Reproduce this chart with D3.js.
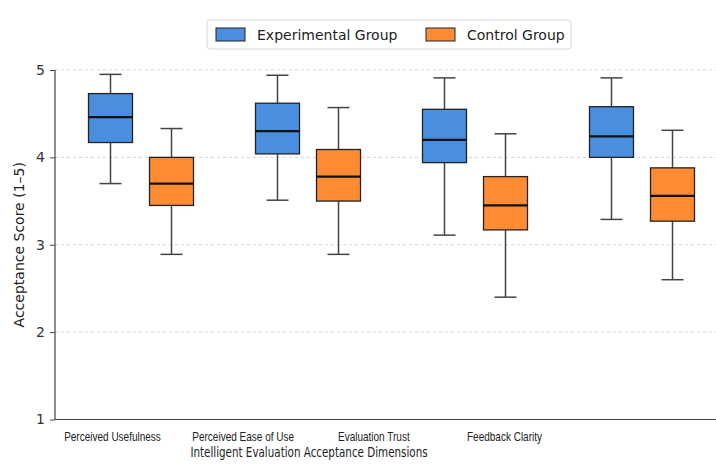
<!DOCTYPE html>
<html>
<head>
<meta charset="utf-8">
<script src="https://cdn.jsdelivr.net/npm/d3@7"></script>
<style>
  body { margin: 0; background: #fff; }
  svg { display: block; font-family: "DejaVu Sans", sans-serif; }
</style>
</head>
<body>
<svg width="716" height="469"></svg>
<script>
const categories = ["Perceived Usefulness", "Perceived Ease of Use", "Evaluation Trust", "Feedback Clarity"];
const groups = ["Experimental Group", "Control Group"];
const colors = ["#4a8fdf", "#ff8c33"];
const yTicks = [1, 2, 3, 4, 5];

// [low whisker, Q1, median, Q3, high whisker] per category
const experimental = [
	[3.70, 4.17, 4.46, 4.73, 4.95],
	[3.51, 4.04, 4.30, 4.62, 4.94],
	[3.11, 3.94, 4.20, 4.55, 4.91],
	[3.29, 4.00, 4.24, 4.58, 4.91]
];
const control = [
	[2.89, 3.45, 3.70, 4.00, 4.33],
	[2.89, 3.50, 3.78, 4.09, 4.57],
	[2.40, 3.17, 3.45, 3.78, 4.27],
	[2.60, 3.27, 3.56, 3.88, 4.31]
];

const svg = d3.select('svg');
const width = +svg.attr('width');
const height = +svg.attr('height');
const margin = { top: 70, right: 0, bottom: 50, left: 55 };

const yS = d3.scaleLinear().domain([1, 5]).range([419.5, 70]);

// box groups
const xS = d3.scaleBand().domain(categories).range([57.5, 725.5]);
const xSub = d3.scaleBand().domain(groups).range([31, 136]).paddingInner(0.279);

// tick labels sit on their own scale (as in the original)
const xLab = d3.scalePoint().domain(categories).range([112, 504]);

// grid
svg.append('g')
	.selectAll('line')
	.data(yTicks.filter(d => d > 1))
	.enter().append('line')
	.attr('x1', margin.left).attr('x2', width)
	.attr('y1', d => yS(d)).attr('y2', d => yS(d))
	.attr('stroke', '#cfcfcf')
	.attr('stroke-width', 0.9)
	.attr('stroke-dasharray', '3,3');

// y axis
const yag = svg.append('g')
	.attr('transform', `translate(${margin.left},0)`)
	.call(d3.axisLeft(yS).tickValues(yTicks).tickFormat(d3.format('d')).tickSize(5).tickPadding(5));
yag.select('.domain').attr('stroke', '#444').attr('stroke-width', 1.2).attr('d', `M-0,${yS(5)}V${yS(1)}`);
yag.selectAll('.tick line').attr('stroke', '#444');
yag.selectAll('.tick text').attr('font-size', 14).attr('fill', '#333').attr('font-family', 'DejaVu Sans');

// x axis line
svg.append('line')
	.attr('x1', margin.left).attr('x2', width)
	.attr('y1', yS(1)).attr('y2', yS(1))
	.attr('stroke', '#444').attr('stroke-width', 1.2);

const xag = svg.append('g')
	.attr('transform', `translate(0,${yS(1)})`)
	.call(d3.axisBottom(xLab).tickSize(0).tickPadding(12));
xag.select('.domain').remove();
xag.selectAll('.tick text')
	.attr('font-size', 13)
	.attr('fill', '#222')
	.attr('transform', 'scale(0.77,1)');

// boxes
const series = [experimental, control];
groups.forEach((grp, gi) => {
	const g = svg.append('g');
	const bw = xSub.bandwidth();
	const items = g.selectAll('g.box')
		.data(categories.map((c, i) => ({ c, s: series[gi][i] })))
		.enter().append('g')
		.attr('class', 'box')
		.attr('transform', d => `translate(${xS(d.c) + xSub(grp)},0)`);

	items.append('line')
		.attr('x1', bw / 2).attr('x2', bw / 2)
		.attr('y1', d => yS(d.s[0])).attr('y2', d => yS(d.s[4]))
		.attr('stroke', '#444').attr('stroke-width', 1.5);
	items.selectAll('line.cap')
		.data(d => [d.s[0], d.s[4]])
		.enter().append('line')
		.attr('x1', bw / 4).attr('x2', bw * 3 / 4)
		.attr('y1', d => yS(d)).attr('y2', d => yS(d))
		.attr('stroke', '#444').attr('stroke-width', 1.5);
	items.append('rect')
		.attr('x', 0).attr('width', bw)
		.attr('y', d => yS(d.s[3]))
		.attr('height', d => yS(d.s[1]) - yS(d.s[3]))
		.attr('fill', colors[gi])
		.attr('stroke', '#222').attr('stroke-width', 1.3);
	items.append('line')
		.attr('x1', 0).attr('x2', bw)
		.attr('y1', d => yS(d.s[2])).attr('y2', d => yS(d.s[2]))
		.attr('stroke', '#111').attr('stroke-width', 2.2);
});

// axis titles
svg.append('text')
	.attr('transform', `translate(24,${(yS(1) + yS(5)) / 2}) rotate(-90)`)
	.attr('text-anchor', 'middle')
	.attr('font-size', 14)
	.attr('fill', '#222')
	.text('Acceptance Score (1–5)');

svg.append('text')
	.attr('transform', 'translate(309,457) scale(0.74,1)')
	.attr('text-anchor', 'middle')
	.attr('font-size', 14)
	.attr('fill', '#222')
	.text('Intelligent Evaluation Acceptance Dimensions');

// legend
const lg = svg.append('g').attr('transform', 'translate(207,20)');
lg.append('rect')
	.attr('width', 364).attr('height', 29).attr('rx', 3)
	.attr('fill', '#fff').attr('stroke', '#d6d6d6');
const legX = [9, 219];
groups.forEach((grp, i) => {
	lg.append('rect')
		.attr('x', legX[i]).attr('y', 8)
		.attr('width', 29).attr('height', 13)
		.attr('fill', colors[i]).attr('stroke', '#222').attr('stroke-width', 1);
	lg.append('text')
		.attr('x', legX[i] + 41).attr('y', 20)
		.attr('font-size', 14)
		.attr('fill', '#222')
		.text(grp);
});
</script>
</body>
</html>
